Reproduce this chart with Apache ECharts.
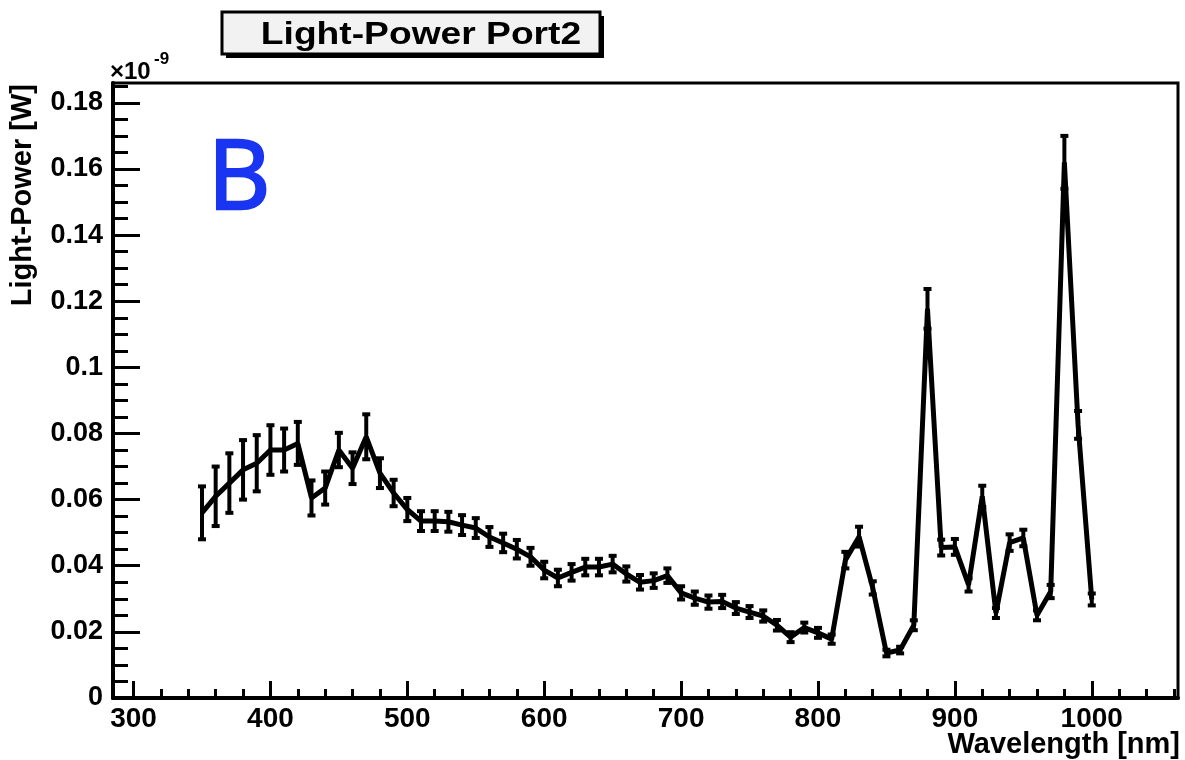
<!DOCTYPE html>
<html>
<head>
<meta charset="utf-8">
<script src="https://cdn.jsdelivr.net/npm/echarts@6/dist/echarts.min.js"></script>
<style>
html, body { margin: 0; padding: 0; background: #fff; }
#chart { width: 1185px; height: 760px; }
</style>
</head>
<body>
<div id="chart"></div>
<script>
// wavelength [nm]
var wavelengths = [350, 360, 370, 380, 390, 400, 410, 420, 430, 440,
    450, 460, 470, 480, 490, 500, 510, 520, 530, 540,
    550, 560, 570, 580, 590, 600, 610, 620, 630, 640,
    650, 660, 670, 680, 690, 700, 710, 720, 730, 740,
    750, 760, 770, 780, 790, 800, 810, 820, 830, 840,
    850, 860, 870, 880, 890, 900, 910, 920, 930, 940,
    950, 960, 970, 980, 990, 1000];
// light power [1e-9 W]
var power = [0.056, 0.061, 0.065, 0.069, 0.071, 0.075, 0.075, 0.077, 0.0605, 0.0635,
    0.075, 0.0695, 0.079, 0.068, 0.062, 0.057, 0.0535, 0.0535, 0.0533, 0.0523,
    0.0514, 0.0487, 0.0469, 0.045, 0.0427, 0.0387, 0.0363, 0.038, 0.0396, 0.0396,
    0.0405, 0.0375, 0.035, 0.0355, 0.037, 0.0318, 0.0302, 0.029, 0.0292, 0.0272,
    0.026, 0.0248, 0.022, 0.0184, 0.0213, 0.0197, 0.0178, 0.0417, 0.0488, 0.0333,
    0.0136, 0.0145, 0.022, 0.1177, 0.0455, 0.0457, 0.0342, 0.061, 0.0257, 0.047,
    0.0484, 0.025, 0.0322, 0.162, 0.0826, 0.0298];
// error on light power
var powerErr = [0.008, 0.009, 0.009, 0.009, 0.0085, 0.0075, 0.0065, 0.0065, 0.0053, 0.005,
    0.0052, 0.0048, 0.0068, 0.0045, 0.004, 0.0035, 0.003, 0.003, 0.003, 0.003,
    0.003, 0.003, 0.0028, 0.0028, 0.0027, 0.0025, 0.0025, 0.0025, 0.0025, 0.0025,
    0.0025, 0.0023, 0.0022, 0.0022, 0.0022, 0.002, 0.002, 0.002, 0.002, 0.0018,
    0.0018, 0.0017, 0.0016, 0.0015, 0.0015, 0.0015, 0.0014, 0.0025, 0.003, 0.002,
    0.001, 0.001, 0.0015, 0.006, 0.0024, 0.0024, 0.002, 0.0032, 0.0015, 0.0025,
    0.0025, 0.0015, 0.002, 0.008, 0.0042, 0.0018];

var xMajorTicks = [300, 400, 500, 600, 700, 800, 900, 1000];
var yMajorTicks = [0, 0.02, 0.04, 0.06, 0.08, 0.1, 0.12, 0.14, 0.16, 0.18];

// minor tick positions (ROOT style: 5 divisions on x, 4 on y)
var xMinorTicks = [];
for (var t = 300; t <= 1060; t += 20) xMinorTicks.push(t);
var yMinorTicks = [];
for (var k = 0; k <= 37; k++) yMinorTicks.push(+(k * 0.005).toFixed(3));

var FONT = 'Liberation Sans';
var myChart = echarts.init(document.getElementById('chart'));

var lineData = wavelengths.map(function (w, i) { return [w, power[i]]; });
var errData = wavelengths.map(function (w, i) { return [w, power[i] - powerErr[i], power[i] + powerErr[i]]; });

function xAxisDef(major) {
    return {
        type: 'value', min: 285, max: 1063, position: 'bottom',
        axisLine: { show: major, onZero: false, lineStyle: { color: '#000', width: 4 } },
        axisTick: {
            show: true, inside: true, length: major ? 17 : 9,
            customValues: major ? xMajorTicks : xMinorTicks,
            lineStyle: { color: '#000', width: 3 }
        },
        axisLabel: {
            show: major, customValues: xMajorTicks, margin: 7,
            color: '#000', fontFamily: FONT, fontWeight: 'bold', fontSize: 28,
            formatter: function (v) { return String(v); }
        },
        splitLine: { show: false }
    };
}

function yAxisDef(major) {
    return {
        type: 'value', min: 0, max: 0.186, position: 'left',
        axisLine: { show: major, onZero: false, lineStyle: { color: '#000', width: 4 } },
        axisTick: {
            show: true, inside: true, length: major ? 27 : 15,
            customValues: major ? yMajorTicks : yMinorTicks,
            lineStyle: { color: '#000', width: 3 }
        },
        axisLabel: {
            show: major, customValues: yMajorTicks, margin: 10,
            color: '#000', fontFamily: FONT, fontWeight: 'bold', fontSize: 27,
            formatter: function (v) { return String(+v.toFixed(3)); }
        },
        splitLine: { show: false }
    };
}

var option = {
    backgroundColor: '#fff',
    animation: false,
    grid: {
        left: 113, right: 7, top: 83, bottom: 62,
        show: true, borderColor: '#000', borderWidth: 3, backgroundColor: 'transparent'
    },
    xAxis: [xAxisDef(true), xAxisDef(false)],
    yAxis: [yAxisDef(true), yAxisDef(false)],
    graphic: [
        // title box with ROOT-like shadow
        { type: 'rect', shape: { x: 226, y: 16, width: 378, height: 42 }, style: { fill: '#000' }, z: 10 },
        { type: 'rect', shape: { x: 222, y: 12, width: 378, height: 42 },
          style: { fill: '#f2f2f2', stroke: '#000', lineWidth: 3 }, z: 11 },
        { type: 'text', x: 421, y: 35, z: 12, scaleX: 1.2,
          style: { text: 'Light-Power Port2', fontFamily: FONT, fontWeight: 'bold', fontSize: 31,
                   fill: '#000', align: 'center', verticalAlign: 'middle' } },
        // exponent
        { type: 'text', x: 110, y: 72,
          style: { text: '\u00d710', fontFamily: FONT, fontWeight: 'bold', fontSize: 24, fill: '#000',
                   align: 'left', verticalAlign: 'middle' } },
        { type: 'text', x: 154, y: 59,
          style: { text: '-9', fontFamily: FONT, fontWeight: 'bold', fontSize: 17, fill: '#000',
                   align: 'left', verticalAlign: 'middle' } },
        // axis titles
        { type: 'text', x: 23, y: 84, rotation: Math.PI / 2,
          style: { text: 'Light-Power [W]', fontFamily: FONT, fontWeight: 'bold', fontSize: 29,
                   fill: '#000', align: 'right', verticalAlign: 'middle' } },
        { type: 'text', x: 1180, y: 745,
          style: { text: 'Wavelength [nm]', fontFamily: FONT, fontWeight: 'bold', fontSize: 29,
                   fill: '#000', align: 'right', verticalAlign: 'middle' } },
        // panel letter
        { type: 'text', x: 239, y: 181,
          style: { text: 'B', fontFamily: 'Open Sans', fontSize: 97, fill: '#1a35f2',
                   stroke: '#1a35f2', lineWidth: 2.5,
                   align: 'center', verticalAlign: 'middle' } }
    ],
    series: [
        {
            type: 'line', xAxisIndex: 0, yAxisIndex: 0,
            data: lineData, showSymbol: false, z: 3,
            lineStyle: { color: '#000', width: 5 }
        },
        {
            type: 'custom', xAxisIndex: 0, yAxisIndex: 0, z: 4,
            data: errData,
            encode: { x: 0, y: [1, 2] },
            renderItem: function (params, api) {
                var top = api.coord([api.value(0), api.value(2)]);
                var bot = api.coord([api.value(0), api.value(1)]);
                var half = 4;
                var st = { stroke: '#000', lineWidth: 4 };
                return {
                    type: 'group',
                    children: [
                        { type: 'line', shape: { x1: top[0], y1: top[1], x2: bot[0], y2: bot[1] }, style: st },
                        { type: 'line', shape: { x1: top[0] - half, y1: top[1], x2: top[0] + half, y2: top[1] }, style: st },
                        { type: 'line', shape: { x1: bot[0] - half, y1: bot[1], x2: bot[0] + half, y2: bot[1] }, style: st }
                    ]
                };
            }
        }
    ]
};

myChart.setOption(option);
</script>
</body>
</html>
